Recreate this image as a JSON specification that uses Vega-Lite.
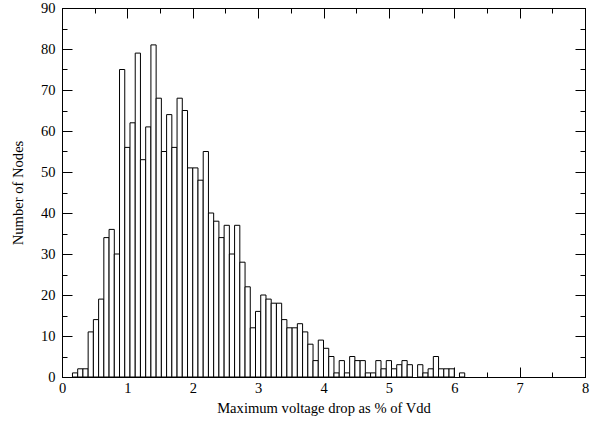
{
  "$schema": "https://vega.github.io/schema/vega-lite/v6.json",
  "width": 523,
  "height": 369,
  "autosize": {"type": "none"},
  "padding": {"left": 62, "top": 8, "right": 10, "bottom": 51},
  "background": "white",
  "config": {
    "view": {"stroke": "black", "strokeWidth": 1},
    "axis": {
      "grid": false,
      "domainColor": "black",
      "domainWidth": 1,
      "tickColor": "black",
      "tickWidth": 1,
      "labelFont": "Liberation Serif",
      "labelFontSize": 14.5,
      "labelColor": "black",
      "titleFont": "Liberation Serif",
      "titleFontSize": 14.6,
      "titleFontWeight": "normal",
      "titleColor": "black"
    }
  },
  "data": {
    "values": [
      {"lo": 0.16, "hi": 0.24, "count": 1},
      {"lo": 0.24, "hi": 0.32, "count": 2},
      {"lo": 0.32, "hi": 0.40, "count": 2},
      {"lo": 0.40, "hi": 0.48, "count": 11},
      {"lo": 0.48, "hi": 0.56, "count": 14},
      {"lo": 0.56, "hi": 0.64, "count": 19},
      {"lo": 0.64, "hi": 0.72, "count": 34},
      {"lo": 0.72, "hi": 0.80, "count": 36},
      {"lo": 0.80, "hi": 0.88, "count": 30},
      {"lo": 0.88, "hi": 0.96, "count": 75},
      {"lo": 0.96, "hi": 1.04, "count": 56},
      {"lo": 1.04, "hi": 1.12, "count": 62},
      {"lo": 1.12, "hi": 1.20, "count": 79},
      {"lo": 1.20, "hi": 1.28, "count": 53},
      {"lo": 1.28, "hi": 1.36, "count": 61},
      {"lo": 1.36, "hi": 1.44, "count": 81},
      {"lo": 1.44, "hi": 1.52, "count": 68},
      {"lo": 1.52, "hi": 1.60, "count": 55},
      {"lo": 1.60, "hi": 1.68, "count": 64},
      {"lo": 1.68, "hi": 1.76, "count": 56},
      {"lo": 1.76, "hi": 1.84, "count": 68},
      {"lo": 1.84, "hi": 1.92, "count": 65},
      {"lo": 1.92, "hi": 2.00, "count": 51},
      {"lo": 2.00, "hi": 2.08, "count": 51},
      {"lo": 2.08, "hi": 2.16, "count": 48},
      {"lo": 2.16, "hi": 2.24, "count": 55},
      {"lo": 2.24, "hi": 2.32, "count": 40},
      {"lo": 2.32, "hi": 2.40, "count": 38},
      {"lo": 2.40, "hi": 2.48, "count": 34},
      {"lo": 2.48, "hi": 2.56, "count": 37},
      {"lo": 2.56, "hi": 2.64, "count": 30},
      {"lo": 2.64, "hi": 2.72, "count": 37},
      {"lo": 2.72, "hi": 2.80, "count": 28},
      {"lo": 2.80, "hi": 2.88, "count": 22},
      {"lo": 2.88, "hi": 2.96, "count": 12},
      {"lo": 2.96, "hi": 3.04, "count": 16},
      {"lo": 3.04, "hi": 3.12, "count": 20},
      {"lo": 3.12, "hi": 3.20, "count": 19},
      {"lo": 3.20, "hi": 3.28, "count": 18},
      {"lo": 3.28, "hi": 3.36, "count": 18},
      {"lo": 3.36, "hi": 3.44, "count": 14},
      {"lo": 3.44, "hi": 3.52, "count": 12},
      {"lo": 3.52, "hi": 3.60, "count": 12},
      {"lo": 3.60, "hi": 3.68, "count": 13},
      {"lo": 3.68, "hi": 3.76, "count": 11},
      {"lo": 3.76, "hi": 3.84, "count": 8},
      {"lo": 3.84, "hi": 3.92, "count": 4},
      {"lo": 3.92, "hi": 4.00, "count": 9},
      {"lo": 4.00, "hi": 4.08, "count": 7},
      {"lo": 4.08, "hi": 4.16, "count": 5},
      {"lo": 4.16, "hi": 4.24, "count": 1},
      {"lo": 4.24, "hi": 4.32, "count": 4},
      {"lo": 4.32, "hi": 4.40, "count": 1},
      {"lo": 4.40, "hi": 4.48, "count": 5},
      {"lo": 4.48, "hi": 4.56, "count": 4},
      {"lo": 4.56, "hi": 4.64, "count": 4},
      {"lo": 4.64, "hi": 4.72, "count": 1},
      {"lo": 4.72, "hi": 4.80, "count": 1},
      {"lo": 4.80, "hi": 4.88, "count": 4},
      {"lo": 4.88, "hi": 4.96, "count": 2},
      {"lo": 4.96, "hi": 5.04, "count": 4},
      {"lo": 5.04, "hi": 5.12, "count": 2},
      {"lo": 5.12, "hi": 5.20, "count": 3},
      {"lo": 5.20, "hi": 5.28, "count": 4},
      {"lo": 5.28, "hi": 5.36, "count": 3},
      {"lo": 5.44, "hi": 5.52, "count": 3},
      {"lo": 5.52, "hi": 5.60, "count": 1},
      {"lo": 5.60, "hi": 5.68, "count": 2},
      {"lo": 5.68, "hi": 5.76, "count": 5},
      {"lo": 5.76, "hi": 5.84, "count": 2},
      {"lo": 5.84, "hi": 5.92, "count": 2},
      {"lo": 5.92, "hi": 6.00, "count": 2},
      {"lo": 6.08, "hi": 6.16, "count": 1}
    ]
  },
  "resolve": {"axis": {"x": "independent", "y": "independent"}},
  "layer": [
    {
      "mark": {"type": "bar", "fill": "white", "stroke": "black", "strokeWidth": 1},
      "encoding": {
        "x": {
          "field": "lo", "type": "quantitative",
          "scale": {"domain": [0, 8], "nice": false, "zero": false},
          "axis": {
            "orient": "bottom",
            "values": [0, 1, 2, 3, 4, 5, 6, 7, 8],
            "format": "d",
            "tickSize": -10,
            "labelPadding": 14,
            "labelFlush": false,
            "labelOverlap": false,
            "title": "Maximum voltage drop as % of Vdd",
            "titleX": 261.5,
            "titleY": 31,
            "titleAlign": "center",
            "titleBaseline": "middle"
          }
        },
        "x2": {"field": "hi"},
        "y": {
          "field": "count", "type": "quantitative",
          "scale": {"domain": [0, 90], "nice": false},
          "axis": {
            "orient": "left",
            "values": [0, 10, 20, 30, 40, 50, 60, 70, 80, 90],
            "format": "d",
            "tickSize": -10,
            "labelPadding": 17,
            "labelFlush": false,
            "labelOverlap": false,
            "title": "Number of Nodes",
            "titleX": -44,
            "titleY": 184.5,
            "titleAngle": -90,
            "titleAlign": "center",
            "titleBaseline": "middle"
          }
        },
        "y2": {"datum": 0}
      }
    },
    {
      "mark": {"type": "bar", "opacity": 0},
      "encoding": {
        "x": {
          "field": "lo", "type": "quantitative",
          "axis": {"orient": "top", "values": [0, 1, 2, 3, 4, 5, 6, 7, 8], "labels": false, "title": null, "tickSize": -10}
        },
        "x2": {"field": "hi"},
        "y": {
          "field": "count", "type": "quantitative",
          "axis": {"orient": "right", "values": [0, 10, 20, 30, 40, 50, 60, 70, 80, 90], "labels": false, "title": null, "tickSize": -10}
        },
        "y2": {"datum": 0}
      }
    },
    {
      "mark": {"type": "bar", "opacity": 0},
      "encoding": {
        "x": {
          "field": "lo", "type": "quantitative",
          "axis": {"orient": "bottom", "values": [0.5, 1.5, 2.5, 3.5, 4.5, 5.5, 6.5, 7.5], "labels": false, "title": null, "domain": false, "tickSize": -5}
        },
        "x2": {"field": "hi"},
        "y": {
          "field": "count", "type": "quantitative",
          "axis": {"orient": "left", "values": [5, 15, 25, 35, 45, 55, 65, 75, 85], "labels": false, "title": null, "domain": false, "tickSize": -5}
        },
        "y2": {"datum": 0}
      }
    },
    {
      "mark": {"type": "bar", "opacity": 0},
      "encoding": {
        "x": {
          "field": "lo", "type": "quantitative",
          "axis": {"orient": "top", "values": [0.5, 1.5, 2.5, 3.5, 4.5, 5.5, 6.5, 7.5], "labels": false, "title": null, "domain": false, "tickSize": -5}
        },
        "x2": {"field": "hi"},
        "y": {
          "field": "count", "type": "quantitative",
          "axis": {"orient": "right", "values": [5, 15, 25, 35, 45, 55, 65, 75, 85], "labels": false, "title": null, "domain": false, "tickSize": -5}
        },
        "y2": {"datum": 0}
      }
    }
  ]
}
